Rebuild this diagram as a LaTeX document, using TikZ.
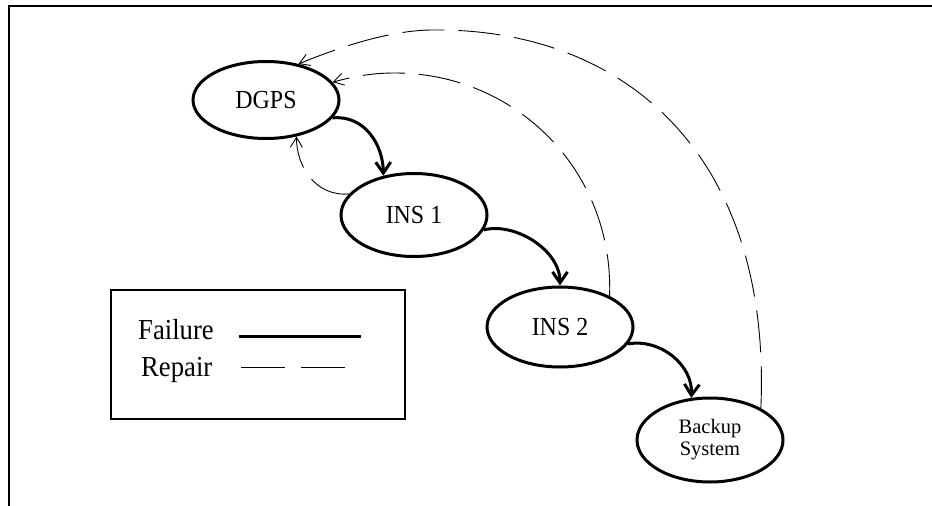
\documentclass[tikz,border=0pt]{standalone}
\usepackage{fontspec}
\setmainfont{Liberation Serif}
\newfontfamily\condfont[FakeStretch=0.92]{Liberation Serif}
\usetikzlibrary{shapes.geometric,arrows.meta}
\tikzset{
  state/.style={ellipse,draw,line width=3pt,inner sep=0pt,minimum width=146pt,minimum height=80pt,font=\condfont\fontsize{26}{28}\selectfont},
  fail/.style={line width=3pt,-{Straight Barb[length=11pt,width=15pt]}},
  repair/.style={line width=0.9pt,dash pattern=on 42pt off 14pt,-{Straight Barb[length=10pt,width=12pt]}},
  legtext/.style={anchor=base west,inner sep=0pt,font=\condfont\fontsize{29}{32}\selectfont}
}
\begin{document}
\begin{tikzpicture}[x=1pt,y=-1pt]
\useasboundingbox (0,0) rectangle (932,506);
% frame
\draw[line width=2.8pt] (9,506) -- (9,6) -- (932,6);
% states
\node[state,minimum height=77pt] (dgps) at (266,100) {DGPS};
\node[state,minimum height=83pt] (ins1) at (414,215) {INS 1};
\node[state,minimum height=80pt] (ins2) at (560,327) {INS 2};
\node[state,minimum height=84pt,align=center,font=\fontsize{20.5}{22}\selectfont] (backup) at (710,440) {Backup\\System};
% failures
\draw[fail] (dgps.-15) .. controls (365,115) and (383,145) .. (ins1.128);
\draw[fail] (ins1.-12) .. controls (515,222) and (560,250) .. (ins2.north);
\draw[fail] (ins2.-14) .. controls (660,338) and (693,365) .. (backup.114);
% repairs
\coordinate (outerpeak) at (433,30);
\coordinate (innerpeak) at (395,73);
\draw[repair] (backup.32) .. controls (772,150) and (620,28) .. (outerpeak)
  .. controls (388,30) and (335,49) .. (dgps.48);
\draw[repair] (ins2.32) .. controls (614,170) and (515,73) .. (innerpeak)
  .. controls (370,73) and (352,77) .. (dgps.15);
\draw[repair] (ins1.162) .. controls (315,197) and (296,165) .. (dgps.-50);
% legend
\node[draw,line width=2.8pt,minimum width=294pt,minimum height=129pt,inner sep=0pt] (legend) at (258,354.5) {};
\node[legtext] (ltfail) at (138,339) {Failure};
\node[legtext] (ltrep) at (141,376) {Repair};
\coordinate (fa) at (239,336);
\coordinate (fb) at (361,336);
\coordinate (ra) at (241,367);
\coordinate (rb) at (347,367);
\draw[line width=3pt] (fa) -- (fb);
\draw[line width=0.9pt,dash pattern=on 44pt off 16pt] (ra) -- (rb);
\end{tikzpicture}
\end{document}
